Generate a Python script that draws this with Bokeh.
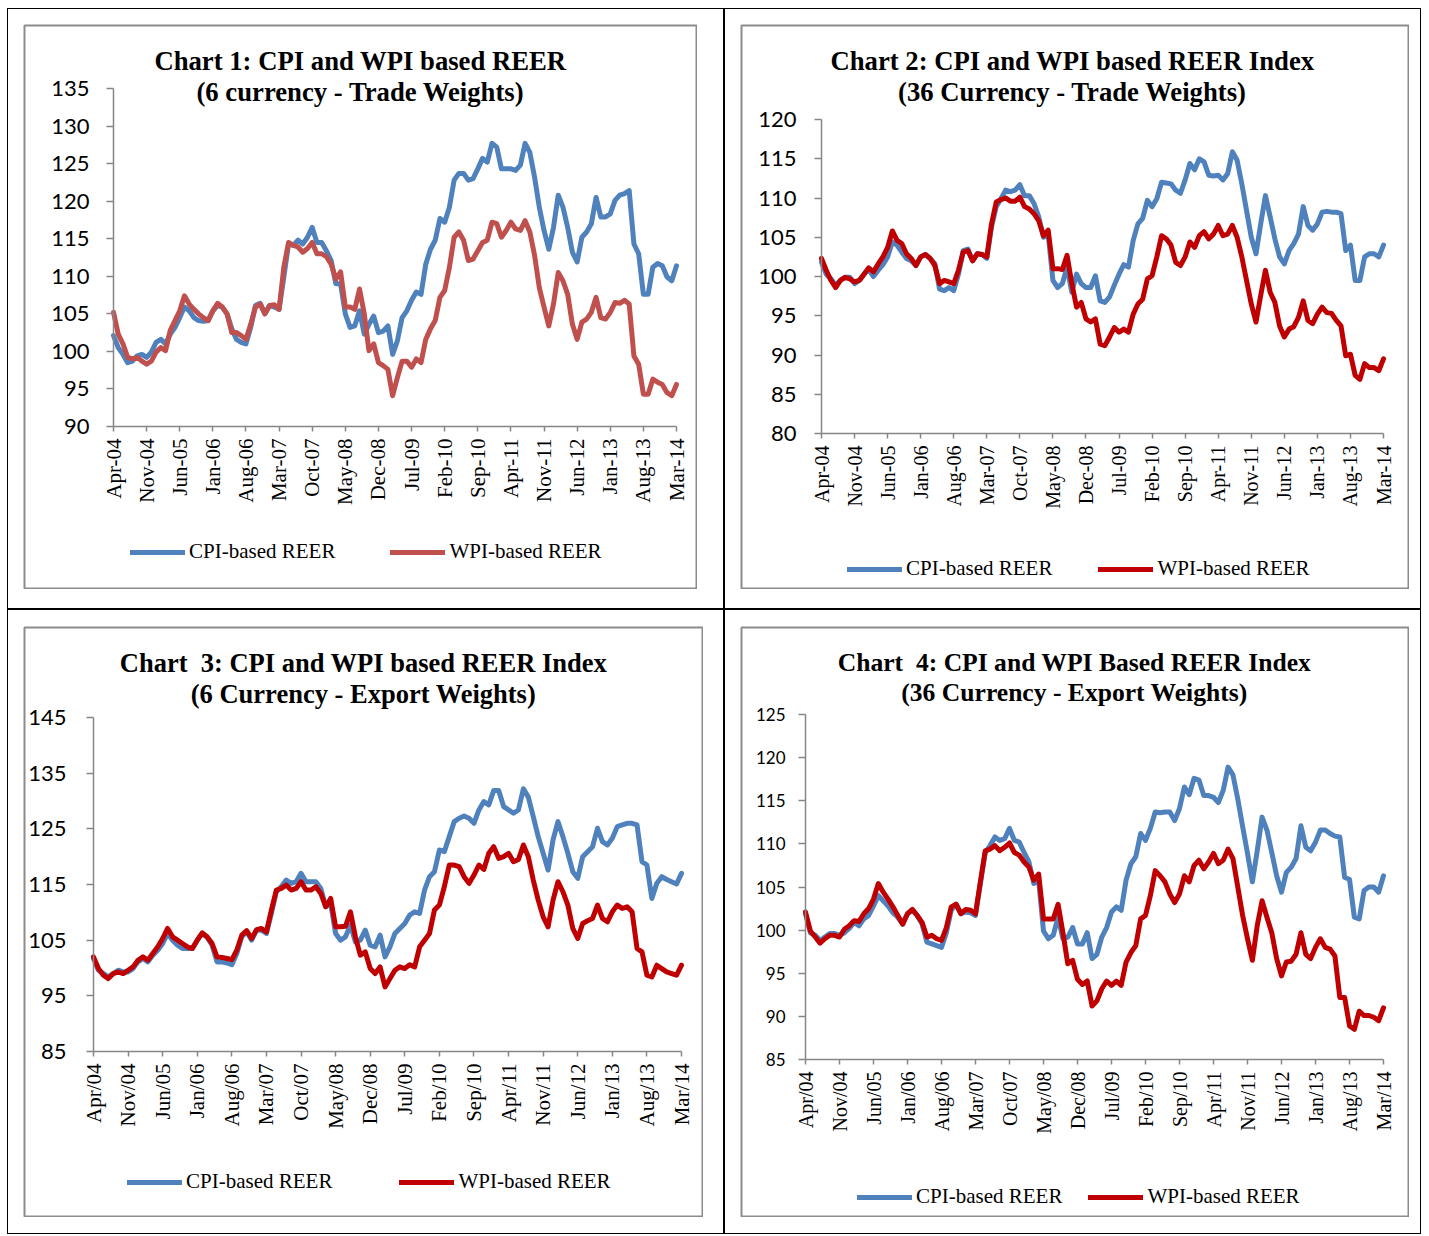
import math
from bokeh.plotting import figure
from bokeh.models import Range1d, FixedTicker, Label, Legend, LegendItem
from bokeh.layouts import row, column
from bokeh.embed import file_html
from bokeh.resources import INLINE

# ---------------- data (monthly, Apr-04 .. Mar-14) ----------------
months = list(range(120))
tick_labels = ["Apr-04", "Nov-04", "Jun-05", "Jan-06", "Aug-06", "Mar-07", "Oct-07", "May-08", "Dec-08",
               "Jul-09", "Feb-10", "Sep-10", "Apr-11", "Nov-11", "Jun-12", "Jan-13", "Aug-13", "Mar-14"]
tick_labels_slash = [t.replace("-", "/") for t in tick_labels]
tick_months = list(range(0, 120, 7))

c1_cpi = [102.1, 100.5, 99.6, 98.5, 98.7, 99.4, 99.6, 99.2, 99.9, 101.2,
          101.6, 101.0, 102.3, 103.2, 104.5, 105.9, 105.4, 104.5, 104.1, 104.0,
          104.1, 105.4, 106.1, 105.9, 105.0, 103.0, 101.6, 101.2, 101.0, 103.2,
          106.1, 106.4, 105.0, 106.1, 105.9, 105.6, 109.9, 114.3, 114.1, 114.8,
          114.3, 115.2, 116.5, 114.5, 114.5, 113.4, 112.1, 109.0, 109.0, 105.0,
          103.2, 103.4, 105.4, 102.3, 103.6, 104.7, 102.5, 102.7, 103.4, 99.6,
          101.4, 104.5, 105.4, 106.8, 107.9, 107.6, 111.6, 113.6, 114.8, 117.7,
          117.2, 119.2, 122.8, 123.7, 123.7, 122.8, 123.0, 124.3, 125.7, 125.2,
          127.7, 127.2, 124.3, 124.3, 124.3, 124.1, 124.8, 127.7, 126.5, 123.2,
          119.2, 116.1, 113.6, 116.5, 120.8, 119.2, 116.5, 113.2, 111.9, 115.2,
          115.9, 117.0, 120.5, 117.9, 117.9, 118.3, 120.1, 120.8, 121.0, 121.4,
          114.3, 113.0, 107.6, 107.6, 111.2, 111.7, 111.4, 109.9, 109.4, 111.4]
c1_wpi = [105.2, 102.3, 101.0, 99.2, 99.0, 99.2, 98.7, 98.3, 98.7, 99.9,
          100.5, 100.1, 102.8, 104.1, 105.4, 107.4, 106.3, 105.6, 105.0, 104.5,
          104.1, 105.4, 106.4, 105.9, 105.0, 102.5, 102.5, 102.1, 101.6, 103.6,
          105.9, 106.3, 105.0, 106.1, 106.2, 105.6, 111.2, 114.5, 114.1, 113.9,
          113.2, 113.7, 114.5, 113.0, 113.0, 112.6, 111.6, 109.6, 110.6, 105.9,
          105.9, 105.6, 108.3, 105.0, 100.1, 101.0, 98.5, 98.1, 97.6, 94.1,
          96.5, 98.7, 98.7, 97.9, 99.0, 98.5, 101.6, 103.0, 104.1, 107.2,
          108.1, 111.2, 115.2, 115.9, 114.8, 112.1, 112.3, 113.4, 114.5, 114.8,
          117.2, 117.0, 115.2, 116.1, 117.2, 116.3, 116.1, 117.4, 115.9, 112.8,
          108.5, 105.9, 103.4, 106.3, 110.5, 109.4, 107.6, 103.6, 101.6, 103.9,
          104.3, 105.2, 107.2, 104.5, 104.3, 105.2, 106.5, 106.4, 106.8, 106.3,
          99.4, 98.3, 94.3, 94.3, 96.3, 95.9, 95.6, 94.5, 94.1, 95.6]

c2_cpi = [101.8, 100.3, 99.7, 98.9, 99.5, 99.9, 99.9, 99.1, 99.5, 100.3,
          100.9, 100.0, 100.8, 101.5, 102.5, 104.4, 104.0, 103.1, 102.3, 102.0,
          101.4, 102.5, 102.8, 102.3, 101.6, 98.4, 98.2, 98.6, 98.2, 100.3,
          103.3, 103.5, 102.0, 102.9, 102.8, 102.3, 106.3, 108.9, 109.9, 111.0,
          110.8, 111.0, 111.7, 110.3, 110.3, 109.3, 107.6, 105.0, 105.4, 99.5,
          98.6, 99.1, 101.2, 98.0, 100.3, 99.1, 98.6, 98.6, 100.1, 96.9,
          96.7, 97.4, 98.9, 100.3, 101.5, 101.2, 104.6, 106.7, 107.4, 109.7,
          108.9, 109.9, 112.0, 111.9, 111.8, 111.0, 110.6, 112.3, 114.4, 113.6,
          115.0, 114.6, 112.9, 112.8, 112.9, 112.3, 113.1, 115.9, 114.8, 111.8,
          108.4, 105.0, 102.9, 106.7, 110.3, 107.6, 104.8, 102.5, 101.6, 103.3,
          104.2, 105.4, 108.9, 106.5, 105.9, 106.7, 108.2, 108.3, 108.2, 108.2,
          108.0, 103.3, 104.0, 99.5, 99.5, 102.5, 102.9, 102.9, 102.5, 104.0]
c2_wpi = [102.3, 100.8, 99.5, 98.6, 99.5, 99.9, 99.7, 99.3, 99.5, 100.3,
          101.1, 100.6, 101.6, 102.5, 103.7, 105.8, 104.6, 104.2, 102.9, 102.3,
          101.4, 102.5, 102.8, 102.3, 101.4, 99.1, 99.5, 99.3, 99.1, 100.8,
          103.1, 103.3, 102.0, 102.9, 102.8, 102.5, 106.7, 109.5, 109.8, 110.0,
          109.6, 109.6, 110.1, 108.9, 108.6, 108.0, 107.1, 105.2, 105.9, 101.0,
          101.0, 100.9, 102.7, 99.1, 96.1, 96.7, 94.6, 94.2, 94.6, 91.4,
          91.2, 92.3, 93.5, 92.9, 93.3, 92.9, 95.2, 96.5, 97.1, 99.7,
          100.1, 102.5, 105.2, 104.8, 104.0, 101.8, 101.4, 102.5, 104.4, 103.7,
          105.2, 105.7, 104.8, 105.4, 106.5, 105.2, 105.4, 106.5, 105.0, 102.5,
          99.5, 96.5, 94.2, 97.6, 100.8, 98.0, 96.7, 93.7, 92.3, 93.3,
          93.6, 94.8, 96.9, 94.4, 94.0, 95.2, 96.1, 95.4, 95.3, 94.4,
          93.7, 89.9, 90.1, 87.4, 86.9, 88.9, 88.4, 88.4, 88.0, 89.5]

c3_cpi = [101.7, 99.6, 99.0, 98.4, 99.0, 99.6, 99.3, 99.3, 99.9, 101.1,
          101.7, 101.1, 102.3, 103.2, 104.4, 106.2, 105.0, 104.1, 103.5, 103.5,
          103.5, 105.0, 106.2, 105.5, 104.1, 101.1, 101.1, 100.9, 100.6, 102.6,
          105.6, 106.5, 105.0, 106.8, 106.8, 106.2, 109.8, 113.7, 114.6, 115.8,
          115.2, 115.5, 117.0, 115.5, 115.5, 115.5, 114.3, 111.0, 111.6, 106.2,
          105.0, 105.6, 107.7, 104.7, 105.0, 106.8, 104.1, 103.8, 105.9, 102.0,
          103.8, 106.2, 107.1, 108.0, 109.5, 110.1, 109.8, 114.0, 116.4, 117.3,
          121.2, 120.9, 123.6, 126.3, 126.9, 127.3, 126.9, 126.0, 128.4, 129.9,
          129.3, 131.9, 131.9, 129.0, 128.4, 127.8, 128.4, 132.2, 130.7, 127.2,
          123.6, 120.6, 117.6, 123.0, 126.3, 123.6, 120.6, 117.3, 116.1, 120.0,
          120.9, 121.8, 125.1, 122.7, 122.1, 123.3, 125.4, 125.7, 126.0, 126.0,
          125.7, 119.1, 118.5, 112.5, 115.2, 116.4, 115.9, 115.5, 115.1, 117.0]
c3_wpi = [102.0, 99.9, 98.7, 98.1, 99.0, 99.3, 99.0, 99.6, 100.2, 101.4,
          102.0, 101.4, 102.6, 103.8, 105.3, 107.1, 105.6, 105.0, 104.4, 103.8,
          103.5, 105.0, 106.3, 105.6, 104.4, 102.0, 101.9, 101.7, 101.5, 103.2,
          105.9, 106.7, 105.3, 106.9, 107.1, 106.5, 110.4, 114.0, 114.3, 114.9,
          114.0, 114.3, 115.5, 114.0, 114.0, 114.6, 113.4, 111.0, 112.5, 107.4,
          107.4, 107.5, 110.1, 105.6, 102.3, 102.9, 99.9, 99.0, 100.2, 96.6,
          98.1, 99.6, 100.2, 99.9, 100.6, 100.2, 103.8, 105.0, 106.2, 110.4,
          111.3, 114.6, 118.5, 118.5, 118.2, 116.4, 115.2, 116.7, 118.5, 117.7,
          120.6, 121.8, 119.7, 120.0, 120.6, 119.1, 119.5, 122.1, 120.0, 115.8,
          112.2, 109.2, 107.4, 112.2, 115.5, 113.7, 111.3, 107.1, 105.3, 108.0,
          108.5, 108.9, 111.3, 108.9, 108.3, 110.1, 111.3, 110.7, 111.0, 110.1,
          103.5, 102.9, 98.7, 98.4, 100.5, 99.9, 99.3, 99.0, 98.7, 100.5]

c4_cpi = [101.9, 99.7, 99.4, 98.8, 99.2, 99.6, 99.6, 99.4, 99.7, 100.2,
          100.9, 100.5, 101.3, 101.7, 102.8, 104.0, 103.4, 102.8, 102.0, 101.5,
          100.7, 101.9, 102.3, 101.7, 100.7, 98.6, 98.4, 98.2, 98.0, 99.7,
          102.3, 103.0, 101.9, 102.1, 102.0, 101.7, 105.4, 109.0, 109.8, 110.8,
          110.4, 110.6, 111.8, 110.4, 110.2, 109.0, 107.9, 105.4, 105.8, 99.9,
          99.0, 99.4, 101.5, 99.0, 99.2, 100.3, 98.4, 98.4, 99.7, 96.7,
          97.2, 99.2, 100.3, 102.1, 102.7, 102.3, 105.8, 107.7, 108.5, 111.2,
          110.4, 111.8, 113.7, 113.6, 113.7, 113.7, 112.7, 114.1, 116.6, 115.7,
          117.6, 117.4, 115.6, 115.6, 115.4, 114.8, 116.2, 118.9, 118.0, 115.2,
          112.0, 108.9, 105.6, 109.2, 113.1, 111.6, 109.0, 106.3, 104.4, 106.7,
          107.3, 108.3, 112.1, 109.6, 109.2, 110.2, 111.6, 111.6, 111.2, 110.9,
          110.8, 106.1, 105.9, 101.5, 101.3, 104.6, 105.0, 105.0, 104.4, 106.3]
c4_wpi = [102.1, 99.9, 99.2, 98.5, 99.0, 99.4, 99.4, 99.2, 100.1, 100.5,
          101.1, 101.0, 101.9, 102.5, 103.6, 105.4, 104.4, 103.6, 102.7, 101.7,
          100.7, 101.9, 102.4, 101.7, 100.9, 99.2, 99.4, 99.0, 98.8, 100.3,
          102.7, 103.0, 101.9, 102.4, 102.3, 101.9, 105.6, 109.2, 109.4, 109.8,
          109.2, 109.6, 110.1, 109.0, 108.7, 107.9, 107.3, 105.8, 106.5, 101.3,
          101.3, 101.3, 103.0, 99.7, 96.1, 96.5, 94.3, 93.7, 94.1, 91.2,
          91.8, 93.2, 94.1, 93.6, 94.1, 93.6, 96.3, 97.4, 98.2, 101.3,
          101.7, 104.0, 106.9, 106.3, 105.6, 104.2, 103.2, 104.2, 106.3, 105.6,
          107.5, 108.1, 107.1, 107.9, 108.9, 107.7, 108.1, 109.4, 108.3, 105.0,
          101.7, 99.0, 96.5, 100.5, 103.4, 101.5, 99.7, 96.7, 94.7, 96.3,
          96.4, 97.2, 99.7, 97.2, 96.7, 98.0, 99.0, 98.0, 97.8, 97.0,
          92.2, 92.2, 88.9, 88.5, 90.6, 90.1, 90.1, 89.9, 89.5, 91.0]

# ---------------- styling ----------------
BLUE = "#4F81BD"
AXIS_GREY = "#868686"
BOX_GREY = "#8c8c8c"
SERIF = "Liberation Serif"
SANS = "Lato"
LEGEND_H = 24


def make_chart(cfg, cpi, wpi, labels):
    bx, by, bw, bh = cfg["box"]            # chart box on the page
    al, ar, at, ab = cfg["axes"]           # pixel positions of x=0, x=119, y=max, y=min
    ymin, ymax = cfg["yr"]
    # the frame covers the whole chart box; axes are placed at fixed data locations
    fl, fr, ft, fb = bx + 1, bx + bw - 1, by + 1, by + bh - 1
    ppx = (ar - al) / 119.0
    ppu = (ab - at) / float(ymax - ymin)
    x0 = 0 - (al - fl) / ppx
    x1 = 119 + (fr - ar) / ppx
    y1 = ymax + (at - ft) / ppu
    y0 = ymin - (fb - ab) / ppu

    p = figure(width=bw, height=bh, x_range=Range1d(x0, x1), y_range=Range1d(y0, y1),
               output_backend="svg", toolbar_location=None, title=None,
               min_border_left=1, min_border_right=1, min_border_top=1, min_border_bottom=1)
    p.margin = cfg["margin"]
    p.outline_line_color = BOX_GREY
    p.outline_line_width = 2
    p.xgrid.visible = False
    p.ygrid.visible = False
    p.background_fill_color = "white"
    p.border_fill_color = "white"

    r1 = p.line(months, cpi, line_color=BLUE, line_width=5, line_join="round", line_cap="round")
    r2 = p.line(months, wpi, line_color=cfg["red"], line_width=5, line_join="round", line_cap="round")

    ya = p.yaxis[0]
    ya.fixed_location = 0
    ya.bounds = (ymin, ymax)
    ya.ticker = FixedTicker(ticks=list(range(ymin, ymax + 1, cfg["ystep"])))
    ya.minor_tick_line_color = None
    ya.major_tick_out = 7
    ya.major_tick_in = 0
    ya.axis_line_color = AXIS_GREY
    ya.axis_line_width = 1.5
    ya.major_tick_line_color = AXIS_GREY
    ya.major_tick_line_width = 1.5
    ya.major_label_text_font = SANS
    ya.major_label_text_font_size = cfg["ysize"]
    ya.major_label_text_color = "black"
    ya.major_label_standoff = cfg["ystand"]

    xa = p.xaxis[0]
    xa.fixed_location = ymin
    xa.bounds = (0, 119)
    xa.ticker = FixedTicker(ticks=tick_months)
    xa.major_label_overrides = {m: lab for m, lab in zip(tick_months, labels)}
    xa.minor_tick_line_color = None
    xa.major_tick_out = 5
    xa.major_tick_in = 0
    xa.axis_line_color = AXIS_GREY
    xa.axis_line_width = 1.5
    xa.major_tick_line_color = AXIS_GREY
    xa.major_tick_line_width = 1.5
    xa.major_label_orientation = math.pi / 2
    xa.major_label_text_font = SERIF
    xa.major_label_text_font_size = cfg["xsize"]
    xa.major_label_text_color = "black"
    xa.major_label_standoff = 7

    # two-line title (screen units: from the frame's bottom-left corner)
    for text, (cx, cy) in zip(cfg["title"], cfg["title_pos"]):
        p.add_layout(Label(x=cx - fl, y=fb - cy, x_units="screen", y_units="screen", text=text,
                           text_align="center", text_baseline="middle", text_font=SERIF,
                           text_font_style="bold", text_font_size=cfg["tsize"], text_color="black"))

    lx, lyc = cfg["legend"]
    leg = Legend(items=[LegendItem(label="CPI-based REER", renderers=[r1]),
                        LegendItem(label="WPI-based REER", renderers=[r2])],
                 orientation="horizontal", location=(lx - fl, fb - lyc - LEGEND_H / 2),
                 glyph_width=55, glyph_height=20, label_height=20, label_standoff=4,
                 spacing=cfg["spacing"], padding=0, margin=0,
                 border_line_color=None, background_fill_alpha=0,
                 label_text_font=SERIF, label_text_font_size="21px", label_text_color="black")
    p.add_layout(leg)
    return p


NB = "\u00a0"
cfg1 = dict(box=(24, 24, 674, 565), axes=(114, 677, 88, 426), yr=(90, 135), ystep=5,
            margin=(15, 26, 19, 15), red="#C0504D", ysize="22px", ystand=17, xsize="21px",
            title=["Chart 1: CPI and WPI based REER", "(6 currency - Trade Weights)"],
            title_pos=[(361, 60), (361, 91)], tsize="26.7px", legend=(131, 552), spacing=55)
cfg2 = dict(box=(741, 24, 669, 565), axes=(822, 1384, 119, 433), yr=(80, 120), ystep=5,
            margin=(15, 11, 19, 15), red="#C00000", ysize="22px", ystand=18, xsize="20px",
            title=["Chart 2: CPI and WPI based REER Index", "(36 Currency - Trade Weights)"],
            title_pos=[(1073, 60), (1073, 91)], tsize="26.7px", legend=(848, 569), spacing=46)
cfg3 = dict(box=(24, 626, 680, 591), axes=(94, 682, 717, 1051), yr=(85, 145), ystep=10,
            margin=(16, 20, 16, 15), red="#C00000", ysize="22px", ystand=20, xsize="21px",
            title=["Chart" + NB + " 3: CPI and WPI based REER Index", "(6 Currency - Export Weights)"],
            title_pos=[(364, 662), (364, 693)], tsize="26.5px", legend=(128, 1182), spacing=67)
cfg4 = dict(box=(741, 626, 669, 591), axes=(806, 1384, 714, 1059), yr=(85, 125), ystep=5,
            margin=(16, 11, 16, 15), red="#C00000", ysize="17px", ystand=13, xsize="20px",
            title=["Chart" + NB + " 4: CPI and WPI Based REER Index", "(36 Currency - Export Weights)"],
            title_pos=[(1075, 662), (1075, 692)], tsize="25.6px", legend=(858, 1197), spacing=26)

p1 = make_chart(cfg1, c1_cpi, c1_wpi, tick_labels)
p2 = make_chart(cfg2, c2_cpi, c2_wpi, tick_labels)
p3 = make_chart(cfg3, c3_cpi, c3_wpi, tick_labels_slash)
p4 = make_chart(cfg4, c4_cpi, c4_wpi, tick_labels_slash)

cell_style = {"background-color": "white"}
c1 = column(p1, margin=(1, 1, 1, 1), styles=cell_style)
c2 = column(p2, margin=(1, 1, 1, 1), styles=cell_style)
c3 = column(p3, margin=(1, 1, 1, 1), styles=cell_style)
c4 = column(p4, margin=(1, 1, 1, 1), styles=cell_style)

layout = column(row(c1, c2, spacing=0), row(c3, c4, spacing=0), spacing=0,
                margin=(8, 0, 0, 7), styles={"background-color": "black"})

open("out.html", "w").write(file_html(layout, INLINE))
